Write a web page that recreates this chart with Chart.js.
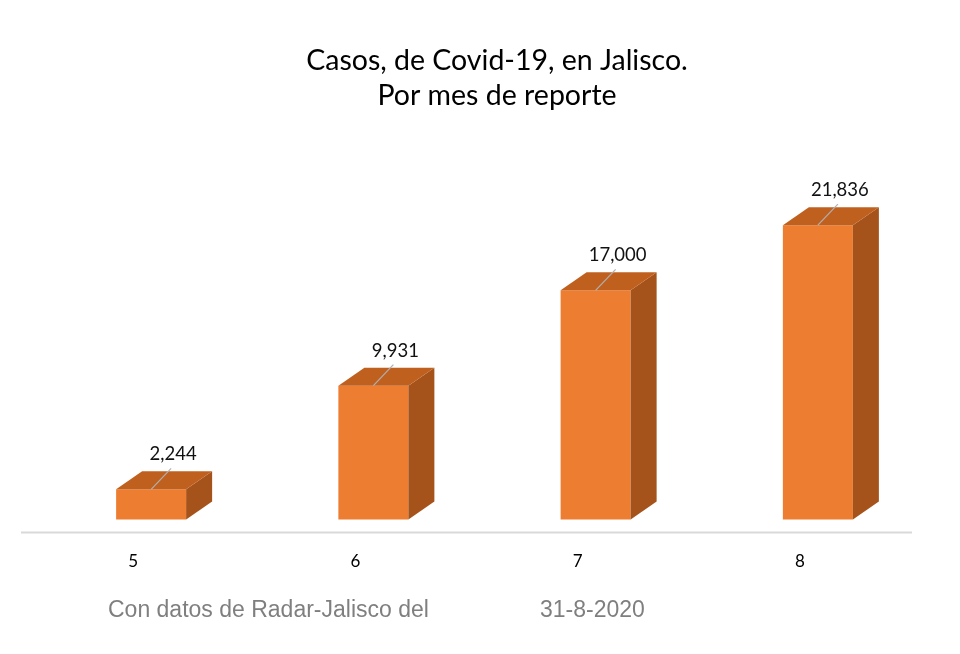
<!DOCTYPE html>
<html>
<head>
<meta charset="utf-8">
<script src="https://cdn.jsdelivr.net/npm/chart.js@4.4.0/dist/chart.umd.min.js"></script>
<style>
html,body{margin:0;padding:0;background:#fff;}
#wrap{width:960px;height:654px;position:relative;}
</style>
</head>
<body>
<div id="wrap"><canvas id="c" width="960" height="654"></canvas></div>
<script>
const categories = ['5', '6', '7', '8'];
const casos = [2244, 9931, 17000, 21836];
const titleLines = ['Casos, de Covid-19, en Jalisco.', 'Por mes de reporte'];
const footerLeft = 'Con datos de Radar-Jalisco del';
const footerRight = '31-8-2020';

const DX = 26, DY = 18;
const FRONT = '#ED7D31', TOP = '#C0601F', SIDE = '#A5531B';

const box3d = {
  id: 'box3d',
  afterDatasetsDraw(chart) {
    const ctx = chart.ctx;
    const meta = chart.getDatasetMeta(0);
    const area = chart.chartArea;
    ctx.save();
    // title
    ctx.fillStyle = '#000';
    ctx.font = '28.5px Lato';
    ctx.textAlign = 'center';
    ctx.textBaseline = 'alphabetic';
    ctx.fillText(titleLines[0], 497, 70);
    ctx.fillText(titleLines[1], 497, 105);
    // floor line
    ctx.strokeStyle = '#d9d9d9';
    ctx.lineWidth = 2;
    ctx.beginPath();
    ctx.moveTo(area.left - 19, area.bottom);
    ctx.lineTo(area.right - 17, area.bottom);
    ctx.stroke();
    meta.data.forEach((bar, i) => {
      const p = bar.getProps(['x', 'y', 'base', 'width'], true);
      const l = p.x - p.width / 2, r = p.x + p.width / 2;
      const t = p.y, b = p.base;
      // side face
      ctx.fillStyle = SIDE;
      ctx.beginPath();
      ctx.moveTo(r, t); ctx.lineTo(r + DX, t - DY); ctx.lineTo(r + DX, b - DY); ctx.lineTo(r, b);
      ctx.closePath(); ctx.fill();
      // top face
      ctx.fillStyle = TOP;
      ctx.beginPath();
      ctx.moveTo(l, t); ctx.lineTo(l + DX, t - DY); ctx.lineTo(r + DX, t - DY); ctx.lineTo(r, t);
      ctx.closePath(); ctx.fill();
      // leader line
      ctx.strokeStyle = '#b0b0b0';
      ctx.lineWidth = 1.2;
      ctx.beginPath();
      ctx.moveTo(p.x, t);
      ctx.lineTo(p.x + 20, t - 21);
      ctx.stroke();
      // label
      ctx.fillStyle = '#111';
      ctx.font = '18.5px Lato';
      ctx.textAlign = 'center';
      ctx.textBaseline = 'middle';
      ctx.fillText(casos[i].toLocaleString('en-US'), p.x + 22, t - 35);
    });
    // footer
    ctx.fillStyle = '#7f7f7f';
    ctx.font = '23px "Liberation Sans"';
    ctx.textAlign = 'left';
    ctx.textBaseline = 'alphabetic';
    ctx.fillText(footerLeft, 108, 617);
    ctx.fillText(footerRight, 540, 617);
    ctx.restore();
  }
};

new Chart(document.getElementById('c'), {
  type: 'bar',
  data: {
    labels: categories,
    datasets: [{
      data: casos,
      backgroundColor: FRONT,
      borderWidth: 0,
      barPercentage: 0.315,
      categoryPercentage: 1
    }]
  },
  options: {
    responsive: false,
    animation: false,
    layout: { padding: { left: 40, right: 31, top: 169, bottom: 63 } },
    plugins: {
      legend: { display: false },
      tooltip: { enabled: false },
      title: { display: false }
    },
    scales: {
      x: {
        grid: { display: false, drawTicks: false },
        border: { display: false },
        ticks: { color: '#000', font: { family: 'Lato', size: 17 }, padding: 19, labelOffset: -18 }
      },
      y: {
        display: false,
        min: -965,
        max: 26000
      }
    }
  },
  plugins: [box3d]
});
</script>
</body>
</html>
